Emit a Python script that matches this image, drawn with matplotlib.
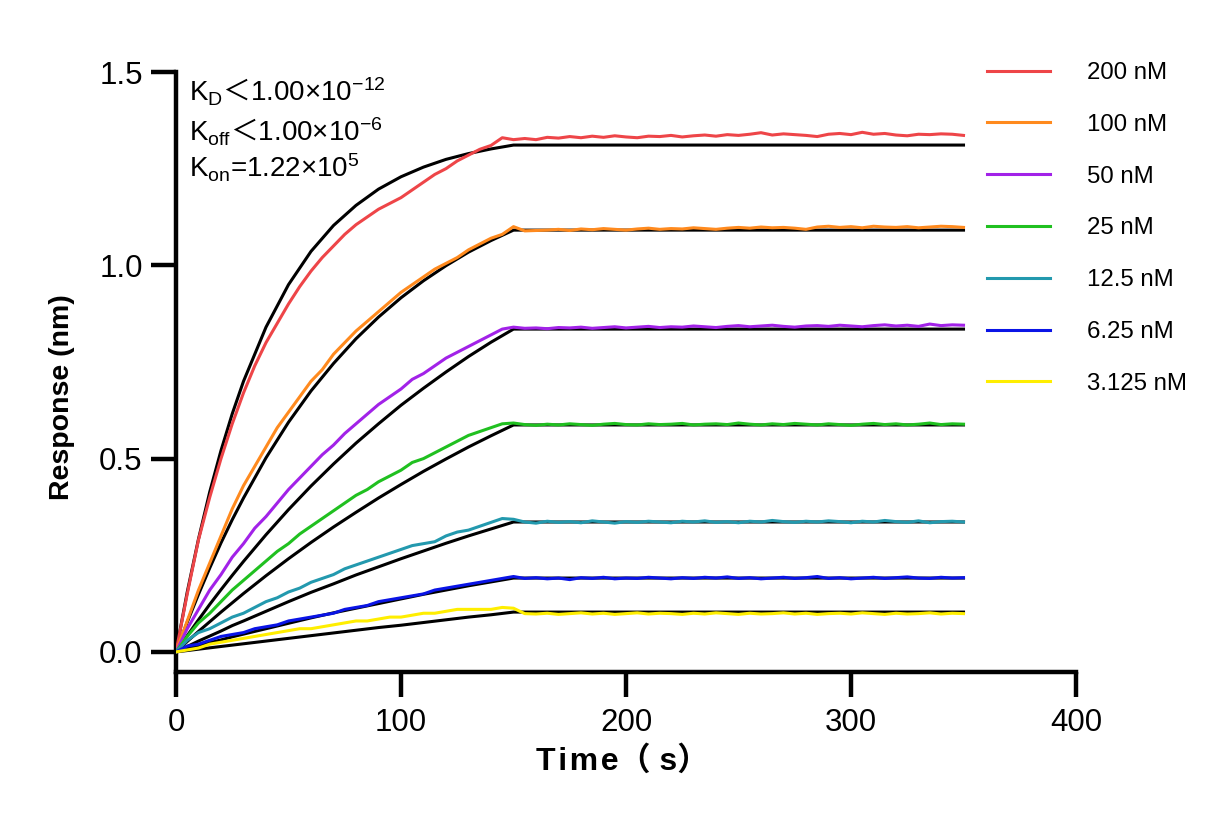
import matplotlib
matplotlib.use("Agg")
import matplotlib.pyplot as plt

plt.rcParams['font.family'] = ['Liberation Sans', 'Noto Sans CJK SC', 'DejaVu Sans']
plt.rcParams['mathtext.fontset'] = 'custom'
plt.rcParams['mathtext.rm'] = 'Liberation Sans'
plt.rcParams['mathtext.it'] = 'Liberation Sans'

# concentrations / legend labels
labels = ["200 nM", "100 nM", "50 nM", "25 nM", "12.5 nM", "6.25 nM", "3.125 nM"]
colors = ["#EE4548", "#FF8A1E", "#A222E8", "#20C020", "#2399AE", "#0A14E6", "#FFEE00"]

# measured response, association 0..150 s (every 5 s)
assoc_time = [0, 5, 10, 15, 20, 25, 30, 35, 40, 45, 50, 55, 60, 65, 70, 75, 80, 85, 90, 95,
              100, 105, 110, 115, 120, 125, 130, 135, 140, 145, 150]
red_assoc = [0.0, 0.15, 0.29, 0.40, 0.50, 0.59, 0.67, 0.74, 0.80, 0.85, 0.90, 0.945, 0.985, 1.02, 1.05,
             1.08, 1.105, 1.125, 1.145, 1.16, 1.175, 1.195, 1.215, 1.235, 1.25, 1.27, 1.285, 1.30, 1.31, 1.33, 1.325]
orange_assoc = [0.0, 0.08, 0.16, 0.23, 0.30, 0.37, 0.43, 0.48, 0.53, 0.58, 0.62, 0.66, 0.70, 0.73, 0.77,
                0.80, 0.83, 0.855, 0.88, 0.905, 0.93, 0.95, 0.97, 0.99, 1.005, 1.02, 1.04, 1.055, 1.07, 1.08, 1.10]
purple_assoc = [0.0, 0.06, 0.11, 0.16, 0.20, 0.245, 0.28, 0.32, 0.35, 0.385, 0.42, 0.45, 0.48, 0.51, 0.535,
                0.565, 0.59, 0.615, 0.64, 0.66, 0.68, 0.705, 0.72, 0.74, 0.76, 0.775, 0.79, 0.805, 0.82, 0.835, 0.84]
green_assoc = [0.0, 0.04, 0.075, 0.10, 0.13, 0.16, 0.185, 0.21, 0.235, 0.26, 0.28, 0.305, 0.325, 0.345, 0.365,
               0.385, 0.405, 0.42, 0.44, 0.455, 0.47, 0.49, 0.50, 0.515, 0.53, 0.545, 0.56, 0.57, 0.58, 0.59, 0.592]
teal_assoc = [0.0, 0.03, 0.05, 0.06, 0.075, 0.09, 0.10, 0.115, 0.13, 0.14, 0.155, 0.165, 0.18, 0.19, 0.20,
              0.215, 0.225, 0.235, 0.245, 0.255, 0.265, 0.275, 0.28, 0.285, 0.30, 0.31, 0.315, 0.325, 0.335, 0.345, 0.343]
blue_assoc = [0.0, 0.015, 0.02, 0.03, 0.04, 0.045, 0.05, 0.06, 0.065, 0.07, 0.08, 0.085, 0.09, 0.095, 0.10,
              0.11, 0.115, 0.12, 0.13, 0.135, 0.14, 0.145, 0.15, 0.16, 0.165, 0.17, 0.175, 0.18, 0.185, 0.19, 0.195]
yellow_assoc = [0.0, 0.005, 0.01, 0.02, 0.025, 0.03, 0.035, 0.04, 0.045, 0.05, 0.055, 0.06, 0.06, 0.065, 0.07,
                0.075, 0.08, 0.08, 0.085, 0.09, 0.09, 0.095, 0.10, 0.10, 0.105, 0.11, 0.11, 0.11, 0.11, 0.115, 0.113]

# measured response, dissociation 155..350 s (every 5 s)
dissoc_time = list(range(155, 351, 5))
red_dissoc = [1.328, 1.325, 1.331, 1.329, 1.333, 1.330, 1.334, 1.331, 1.335, 1.332, 1.330, 1.334, 1.333, 1.336,
              1.332, 1.335, 1.337, 1.334, 1.338, 1.336, 1.339, 1.343, 1.337, 1.340, 1.338, 1.336, 1.333, 1.339,
              1.341, 1.338, 1.344, 1.339, 1.341, 1.337, 1.335, 1.339, 1.338, 1.340, 1.339, 1.336]
orange_dissoc = [1.089, 1.090, 1.091, 1.093, 1.090, 1.094, 1.092, 1.095, 1.093, 1.091, 1.094, 1.096, 1.093, 1.095,
                 1.094, 1.097, 1.095, 1.093, 1.096, 1.098, 1.096, 1.099, 1.097, 1.098, 1.096, 1.093, 1.099, 1.101,
                 1.098, 1.100, 1.097, 1.101, 1.099, 1.098, 1.100, 1.097, 1.099, 1.101, 1.100, 1.098]
purple_dissoc = [0.837, 0.838, 0.836, 0.839, 0.838, 0.840, 0.837, 0.839, 0.841, 0.838, 0.840, 0.842, 0.839, 0.841,
                 0.840, 0.843, 0.841, 0.839, 0.842, 0.844, 0.841, 0.843, 0.845, 0.842, 0.840, 0.843, 0.844, 0.842,
                 0.845, 0.843, 0.841, 0.844, 0.846, 0.843, 0.845, 0.842, 0.848, 0.844, 0.846, 0.845]
green_dissoc = [0.588, 0.586, 0.589, 0.587, 0.590, 0.588, 0.586, 0.589, 0.591, 0.588, 0.587, 0.590, 0.588, 0.589,
                0.591, 0.587, 0.589, 0.590, 0.588, 0.592, 0.589, 0.587, 0.590, 0.588, 0.591, 0.589, 0.587, 0.590,
                0.588, 0.586, 0.589, 0.591, 0.588, 0.590, 0.587, 0.589, 0.592, 0.588, 0.590, 0.589]
teal_dissoc = [0.336, 0.333, 0.338, 0.335, 0.337, 0.334, 0.339, 0.336, 0.333, 0.337, 0.335, 0.338, 0.336, 0.334,
               0.338, 0.336, 0.339, 0.335, 0.337, 0.334, 0.338, 0.336, 0.340, 0.337, 0.335, 0.338, 0.336, 0.339,
               0.337, 0.334, 0.338, 0.336, 0.340, 0.337, 0.335, 0.339, 0.334, 0.337, 0.338, 0.336]
blue_dissoc = [0.190, 0.192, 0.189, 0.191, 0.187, 0.192, 0.190, 0.193, 0.189, 0.191, 0.190, 0.193, 0.191, 0.189,
               0.192, 0.190, 0.193, 0.191, 0.194, 0.190, 0.192, 0.189, 0.191, 0.193, 0.190, 0.192, 0.195, 0.190,
               0.192, 0.189, 0.191, 0.193, 0.190, 0.192, 0.194, 0.191, 0.190, 0.193, 0.191, 0.192]
yellow_dissoc = [0.099, 0.098, 0.100, 0.097, 0.099, 0.101, 0.098, 0.100, 0.097, 0.099, 0.101, 0.098, 0.100, 0.099,
                 0.097, 0.100, 0.098, 0.101, 0.099, 0.097, 0.100, 0.098, 0.099, 0.101, 0.098, 0.100, 0.097, 0.099,
                 0.100, 0.098, 0.101, 0.099, 0.097, 0.100, 0.098, 0.099, 0.101, 0.098, 0.100, 0.099]

# fitted curves (black)
fit_time = [0, 5, 10, 15, 20, 25, 30, 40, 50, 60, 70, 80, 90, 100, 110, 120, 130, 140, 150, 350]
red_fit = [0, 0.155, 0.292, 0.414, 0.521, 0.616, 0.700, 0.840, 0.950, 1.036, 1.103, 1.155, 1.197, 1.229,
           1.254, 1.274, 1.289, 1.301, 1.311, 1.311]
orange_fit = [0, 0.077, 0.149, 0.217, 0.282, 0.342, 0.398, 0.502, 0.594, 0.675, 0.746, 0.810, 0.866, 0.916,
              0.960, 0.999, 1.034, 1.064, 1.091, 1.091]
purple_fit = [0, 0.042, 0.083, 0.123, 0.161, 0.198, 0.234, 0.303, 0.368, 0.429, 0.486, 0.540, 0.590, 0.638,
              0.682, 0.724, 0.764, 0.801, 0.835, 0.835]
green_fit = [0, 0.027, 0.053, 0.078, 0.103, 0.127, 0.151, 0.197, 0.241, 0.283, 0.323, 0.361, 0.398, 0.433,
             0.467, 0.499, 0.530, 0.559, 0.587, 0.587]
teal_fit = [0, 0.014, 0.028, 0.041, 0.054, 0.068, 0.080, 0.105, 0.130, 0.154, 0.176, 0.199, 0.220, 0.241,
            0.261, 0.281, 0.300, 0.318, 0.336, 0.336]
blue_fit = [0, 0.008, 0.016, 0.024, 0.031, 0.039, 0.046, 0.060, 0.074, 0.088, 0.101, 0.113, 0.125, 0.137,
            0.149, 0.160, 0.171, 0.181, 0.191, 0.191]
yellow_fit = [0, 0.0035, 0.007, 0.0105, 0.014, 0.0175, 0.021, 0.028, 0.035, 0.042, 0.049, 0.056, 0.063, 0.069,
              0.076, 0.083, 0.090, 0.096, 0.103, 0.103]

assoc = [red_assoc, orange_assoc, purple_assoc, green_assoc, teal_assoc, blue_assoc, yellow_assoc]
dissoc = [red_dissoc, orange_dissoc, purple_dissoc, green_dissoc, teal_dissoc, blue_dissoc, yellow_dissoc]
fits = [red_fit, orange_fit, purple_fit, green_fit, teal_fit, blue_fit, yellow_fit]

fig = plt.figure(figsize=(12.32, 8.25), dpi=100)
ax = fig.add_axes([176 / 1232, 1 - 672 / 825, 900 / 1232, 600 / 825])

for f in fits:
    ax.plot(fit_time, f, color="black", lw=2.2, zorder=2)

handles = []
for a, d, c, lab in zip(assoc, dissoc, colors, labels):
    line, = ax.plot(assoc_time + dissoc_time, a + d, color=c, lw=2.2, label=lab, zorder=3)
    handles.append(line)

ax.set_xlim(0, 400)
ax.set_ylim(-0.052, 1.5)
ax.set_xticks([0, 100, 200, 300, 400])
ax.set_yticks([0.0, 0.5, 1.0, 1.5])
ax.set_yticklabels(["0.0", "0.5", "1.0", "1.5"])
for s in ["top", "right"]:
    ax.spines[s].set_visible(False)
for s in ["left", "bottom"]:
    ax.spines[s].set_linewidth(3.2)
ax.tick_params(axis="both", width=3.2, length=18, labelsize=22.5)
ax.tick_params(axis="y", pad=6)
ax.tick_params(axis="x", pad=8)

ax.set_ylabel("Response (nm)", fontsize=20.5, fontweight="bold")
ax.yaxis.set_label_coords(-0.112, 0.458)
ax.set_xlabel("T\u200ai\u200am\u200ae（ s）", fontsize=23, fontweight="bold")
ax.xaxis.set_label_coords(0.496, -0.123)

# kinetic constants
txt_x = 189 / 1232
fig.text(txt_x, 1 - 102 / 825, r"$\mathrm{K_D}$＜$\mathrm{1.00{\times}10^{-12}}$",
         fontsize=20, family="Noto Sans CJK SC", va="baseline")
fig.text(txt_x, 1 - 141 / 825, r"$\mathrm{K_{off}}$＜$\mathrm{1.00{\times}10^{-6}}$",
         fontsize=20, family="Noto Sans CJK SC", va="baseline")
fig.text(txt_x, 1 - 178 / 825, r"$\mathrm{K_{on}}$=1.22×10$^{\mathrm{5}}$",
         fontsize=20, va="baseline")

fig.legend(handles=handles, loc="upper left", bbox_to_anchor=(987 / 1232, 1 - 62 / 825),
           frameon=False, fontsize=17.3, handlelength=2.62, handletextpad=1.55,
           labelspacing=1.24, borderpad=0, borderaxespad=0)

fig.savefig("out.png", dpi=100)
